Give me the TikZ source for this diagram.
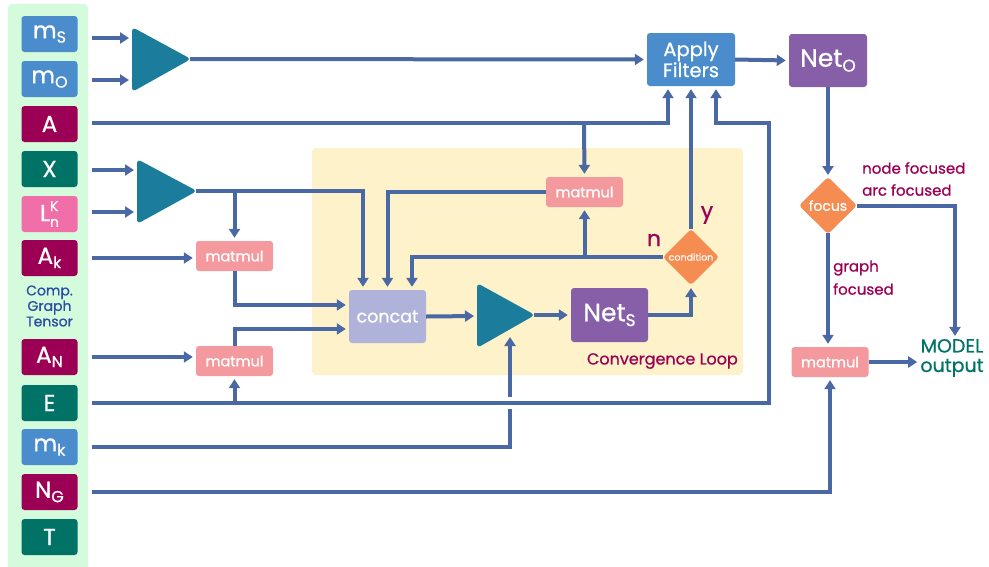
\documentclass[tikz,border=0pt]{standalone}
\usepackage{fontspec}
\setmainfont{Poppins}[FakeBold=0.8]
\usetikzlibrary{arrows.meta,calc}
\definecolor{conn}{HTML}{4A68A3}
\definecolor{blueb}{HTML}{4A8CCC}
\definecolor{mag}{HTML}{9B0054}
\definecolor{tealc}{HTML}{007366}
\definecolor{pinkc}{HTML}{F06FA8}
\definecolor{tric}{HTML}{1B7D9B}
\definecolor{salmon}{HTML}{F4999D}
\definecolor{lav}{HTML}{B0B3D9}
\definecolor{purp}{HTML}{865FA8}
\definecolor{orangec}{HTML}{F58C52}
\definecolor{yel}{HTML}{FDF2C9}
\definecolor{grn}{HTML}{D4FBDC}
\definecolor{tblue}{HTML}{2B4EA3}
\newcommand{\fs}[1]{\fontsize{#1}{#1}\selectfont}
\newcommand{\lsub}[1]{\raisebox{-0.35ex}{\fs{16}#1}}
\newcommand{\nsub}[1]{\raisebox{-0.35ex}{\fs{17}#1}}
\tikzset{
  lbox/.style={rounded corners=3pt, text=white, minimum width=56, minimum height=36, inner sep=0pt, font=\fs{23}},
  mmbox/.style={rounded corners=3pt, fill=salmon, text=white, minimum width=77, minimum height=30, inner sep=0pt, font=\fs{14.5}},
  arr/.style={draw=conn, line width=4, -{Triangle[length=9,width=11]}, shorten >=3},
  trishape/.style={fill=tric, rounded corners=4pt},
  lab/.style={text=mag, font=\fs{15}, inner sep=0pt},
  dia/.style={fill=orangec, rounded corners=3pt}
}
\begin{document}
\begin{tikzpicture}[x=1pt,y=-1pt]
\useasboundingbox (0,0) rectangle (989,566);
% backgrounds
\fill[grn, rounded corners=4pt] (8,4) rectangle (88,570);
\fill[yel, rounded corners=4pt] (312,148) rectangle (743,375);

% left column
\node[lbox,fill=blueb] (ms) at (49.5,34) {m\lsub{S}};
\node[lbox,fill=blueb] (mo) at (49.5,79) {m\lsub{O}};
\node[lbox,fill=mag] (A) at (49.5,124) {A};
\node[lbox,fill=tealc] (X) at (49.5,169) {X};
\node[lbox,fill=pinkc] (Ln) at (49.5,214) {L\rlap{\raisebox{0.8ex}{\fs{14}K}}\raisebox{-0.45ex}{\fs{14}n}};
\node[lbox,fill=mag] (Ak) at (49.5,258) {A\lsub{k}};
\node[text=tblue, align=center, inner sep=0pt, font=\fontsize{14}{15.5}\selectfont] (cgt) at (49.5,306) {Comp.\\Graph\\Tensor};
\node[lbox,fill=mag] (AN) at (49.5,357) {A\lsub{N}};
\node[lbox,fill=tealc] (E) at (49.5,403) {E};
\node[lbox,fill=blueb] (mk) at (49.5,447) {m\lsub{k}};
\node[lbox,fill=mag] (NG) at (49.5,492) {N\lsub{G}};
\node[lbox,fill=tealc] (T) at (49.5,537) {T};

% triangles
\fill[trishape] (132,27) -- (191,59) -- (132,92) -- cycle;
\coordinate (t1a) at (132,38); \coordinate (t1b) at (132,80); \coordinate (t1o) at (190,59);
\fill[trishape] (137,159) -- (197,191) -- (137,224) -- cycle;
\coordinate (t2a) at (137,170); \coordinate (t2b) at (137,212); \coordinate (t2o) at (196,191);
\fill[trishape] (477,283) -- (535,315) -- (477,348) -- cycle;
\coordinate (t3a) at (477,316); \coordinate (t3o) at (534,315); \coordinate (t3b) at (510,334);

% nodes
\node[rounded corners=3pt, fill=blueb, text=white, minimum width=88, minimum height=53, inner sep=0pt, align=center, font=\fontsize{19.5}{21}\selectfont] (af) at (691,59.5) {Apply\\Filters};
\node[rounded corners=3pt, fill=purp, text=white, minimum width=78, minimum height=53, inner sep=0pt, font=\fs{25}] (no) at (828,60.5) {Net\nsub{O}};
\node[rounded corners=3pt, fill=purp, text=white, minimum width=77, minimum height=54, inner sep=0pt, font=\fs{25}] (ns) at (609.5,315) {Net\nsub{S}};
\node[rounded corners=3pt, fill=lav, text=white, minimum width=77, minimum height=53, inner sep=0pt, font=\fs{17.5}] (concat) at (387.5,316.5) {concat};
\node[mmbox] (m1) at (234.5,256) {matmul};
\node[mmbox] (m2) at (234.5,361) {matmul};
\node[mmbox] (ml) at (584.5,192) {matmul};
\node[mmbox] (mr) at (830,362) {matmul};
\fill[dia] (828,177) -- (857,205.5) -- (828,234) -- (799,205.5) -- cycle;
\node[text=white, font=\fs{14}, inner sep=0pt] (focus) at (828,205.5) {focus};
\coordinate (fN) at (828,178); \coordinate (fE) at (857,205.5); \coordinate (fS) at (828,233);
\fill[dia] (691,229) -- (719,257) -- (691,285) -- (663,257) -- cycle;
\node[text=white, font=\fs{9.5}, inner sep=0pt] (cond) at (691,257) {condition};
\coordinate (cN) at (691,229); \coordinate (cW) at (663,257); \coordinate (cS) at (691,285);
\node[text=tealc, align=center, inner sep=0pt, font=\fontsize{19}{19.5}\selectfont] (mout) at (952,358) {MODEL\\output};

% labels
\node[lab, anchor=east, font=\fs{16}] (cl) at (738,361) {Convergence Loop};
\node[lab, font=\fs{22}] (nl) at (654,240) {n};
\node[lab, font=\fs{22}] (yl) at (707,215) {y};
\node[lab, anchor=west] (nf) at (862,168) {node focused};
\node[lab, anchor=west] (af2) at (862,190) {arc focused};
\node[lab, anchor=west] (gf1) at (833,268) {graph};
\node[lab, anchor=west] (gf2) at (833,289) {focused};

% connectors
\draw[arr] ($(ms.east)+(14,4)$) -- (t1a);
\draw[arr] ($(mo.east)+(14,1)$) -- (t1b);
\draw[arr] (t1o) -- (af.west);
\coordinate (Abr) at (584,123);
\draw[arr] ($(A.east)+(14,-1)$) -| ($(af.south)+(-23,0)$);
\draw[arr] (Abr) -- (ml.north);
\draw[arr] (af.east) -- (no.west);
\draw[arr] (no.south) -- (fN);
\draw[arr] (fE) -| ([xshift=3]mout.north);
\draw[arr] (fS) -- (fS |- mr.north);
\draw[arr] (mr.east) -- (mout.west |- mr.east);
\draw[arr] ($(NG.east)+(14,0)$) -| (mr.south);

\draw[arr] ($(X.east)+(14,1)$) -- (t2a);
\draw[arr] ($(Ln.east)+(14,-2)$) -- (t2b);
\coordinate (t2br) at (234.5,191);
\draw[arr] (t2o) -| ($(concat.north)+(-24.5,0)$);
\draw[arr] (t2br) -- (m1.north);
\draw[arr] ($(Ak.east)+(14,0)$) -- (Ak.east -| m1.west);
\draw[arr] (m1.south) |- ($(concat.west)+(0,-11.5)$);
\draw[arr] ($(AN.east)+(14,0)$) -- (AN.east -| m2.west);
\draw[arr] (m2.north) |- ($(concat.west)+(0,12.5)$);

\draw[arr] ($(mk.east)+(14,0)$) -| (t3b);
\draw[white, line width=12] (500,403) -- (520,403);
\draw[arr] ($(E.east)+(14,0)$) -- (769,403) -- (769,123) -| ($(af.south)+(25,0)$);
\coordinate (Ebr) at (234.5,403);
\draw[arr] (Ebr) -- (m2.south);

\draw[arr] (concat.east) -- (t3a);
\draw[arr] (t3o) -- (ns.west);
\draw[arr] (ns.east) -| (cS);
\draw[arr] (cN) -- (af.south);
\coordinate (cbr) at (584.5,257);
\draw[arr] (cW) -| ($(concat.north)+(24.5,0)$);
\draw[arr] (cbr) -- (ml.south);
\draw[arr] (ml.west) -| (concat.north);
\end{tikzpicture}
\end{document}
